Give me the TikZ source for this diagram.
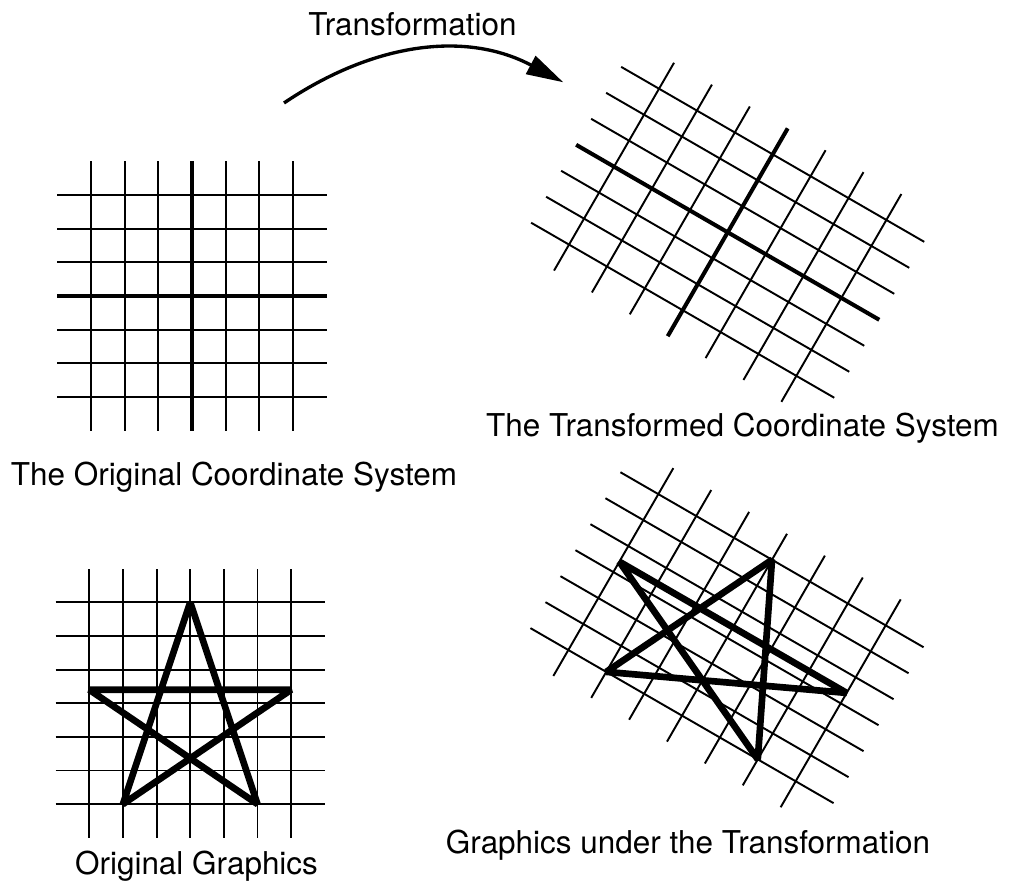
\documentclass[tikz,border=0pt]{standalone}
\usepackage{fontspec}
\setmainfont{TeX Gyre Heros}
\usetikzlibrary{arrows.meta}

\begin{document}
\begin{tikzpicture}[
    gridline/.style={line width=1.1pt},
    axisline/.style={line width=2.3pt},
    starline/.style={line width=3.8pt, line join=bevel},
    caption/.style={font=\fontsize{17.9}{21}\selectfont, anchor=base, inner sep=0pt},
    transarrow/.style={line width=1.9pt, -{Triangle[length=0.74cm, width=0.4cm]}}]
    \useasboundingbox (0,0) rectangle (20.32,17.72);

    % original coordinate system
    \begin{scope}[shift={(3.84,11.80)}, scale=0.673]
        \foreach \i in {-3,-2,-1,1,2,3} {
            \draw[gridline] (\i,-4) -- (\i,4);
            \draw[gridline] (-4,\i) -- (4,\i);
        }
        \draw[axisline] (0,-4) -- (0,4);
        \draw[axisline] (-4,0) -- (4,0);
    \end{scope}

    % transformed coordinate system
    \begin{scope}[shift={(14.554,13.074)}, rotate=-30, xscale=0.875, yscale=0.6]
        \foreach \i in {-3,-2,-1,1,2,3} {
            \draw[gridline] (\i,-4) -- (\i,4);
            \draw[gridline] (-4,\i) -- (4,\i);
        }
        \draw[axisline] (0,-4) -- (0,4);
        \draw[axisline] (-4,0) -- (4,0);
    \end{scope}

    % original graphics
    \begin{scope}[shift={(3.804,3.656)}, scale=0.673]
        \foreach \i in {-3,...,3} {
            \draw[gridline] (\i,-4) -- (\i,4);
            \draw[gridline] (-4,\i) -- (4,\i);
        }
        \draw[starline] (0,3) -- (2,-3) -- (-3,0.4) -- (3,0.4) -- (-2,-3) -- cycle;
    \end{scope}

    % graphics under the transformation
    \begin{scope}[shift={(14.54,4.966)}, rotate=-30, xscale=0.875, yscale=0.6]
        \foreach \i in {-3,...,3} {
            \draw[gridline] (\i,-4) -- (\i,4);
            \draw[gridline] (-4,\i) -- (4,\i);
        }
        \draw[starline] (0,3) -- (2,-3) -- (-3,0.4) -- (3,0.4) -- (-2,-3) -- cycle;
    \end{scope}

    \coordinate (arrow start) at (5.68,15.66);
    \coordinate (arrow end) at (11.266,16.074);
    \draw[transarrow] (arrow start) to[out=34, in=152] (arrow end);
    \node[caption] (trans label) at (8.25,17.0) {Transformation};

    \node[caption] (orig caption) at (4.68,8.0) {The Original Coordinate System};
    \node[caption] (trans caption) at (14.85,8.98) {The Transformed Coordinate System};
    \node[caption] (orig graphics) at (3.93,0.24) {Original Graphics};
    \node[caption] (trans graphics) at (13.76,0.66) {Graphics under the Transformation};
\end{tikzpicture}
\end{document}
